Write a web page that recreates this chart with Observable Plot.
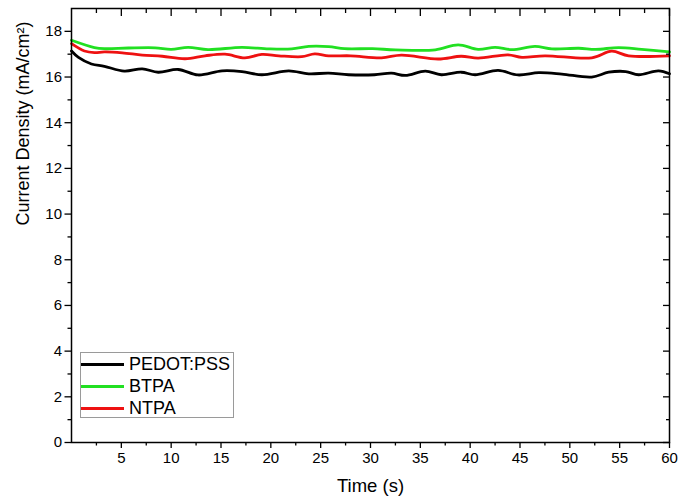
<!DOCTYPE html>
<html>
<head>
<meta charset="utf-8">
<script src="https://cdn.jsdelivr.net/npm/d3@7"></script>
<script src="https://cdn.jsdelivr.net/npm/@observablehq/plot@0.6"></script>
<style>
  html, body { margin: 0; padding: 0; background: #fff; }
  #wrap { position: relative; width: 678px; height: 503px; font-family: "Liberation Sans", Arial, sans-serif; }
  #legend { position: absolute; left: 80px; top: 352px; width: 154px; height: 66px; border: 1px solid #9a9a9a; background: #fff; box-sizing: border-box; }
  .row { position: absolute; left: 0; height: 20px; display: flex; align-items: center; }
  .swatch { width: 43px; height: 0; border-top: 3px solid; margin-right: 5px; }
  .lbl { font-size: 18px; color: #000; line-height: 18px; white-space: nowrap; }
</style>
</head>
<body>
<div id="wrap"></div>
<script>
// ---- data ----
const seriesNames = ["PEDOT:PSS", "BTPA", "NTPA"];
const seriesColors = ["#000000", "#22e022", "#ee1111"];

const pedotTime = [0, 0.7, 2, 3.3, 5.3, 7.1, 8.7, 10.7, 12.7, 15.1, 17.1, 19.1, 21.8, 23.8, 25.8, 27.8, 30.4, 32.1, 33.5, 35.5, 37.1, 39.1, 40.5, 42.8, 44.8, 46.9, 49.2, 52.2, 53.9, 55.6, 56.9, 58.9, 60];
const pedotValue = [17.14, 16.86, 16.57, 16.47, 16.26, 16.36, 16.21, 16.33, 16.09, 16.27, 16.24, 16.10, 16.27, 16.14, 16.17, 16.10, 16.10, 16.17, 16.07, 16.26, 16.10, 16.21, 16.10, 16.29, 16.09, 16.19, 16.13, 16.00, 16.21, 16.24, 16.10, 16.27, 16.14];

const btpaTime = [0, 2.3, 3.3, 5.7, 8.4, 10, 11.7, 13.7, 17.1, 19.8, 22.1, 23.8, 25.8, 27.4, 30.2, 32.5, 36.5, 38.8, 40.8, 42.5, 44.2, 46.5, 48.2, 50.9, 52.6, 54.9, 57.2, 60];
const btpaValue = [17.61, 17.29, 17.24, 17.27, 17.28, 17.21, 17.30, 17.20, 17.30, 17.23, 17.23, 17.34, 17.33, 17.24, 17.24, 17.19, 17.19, 17.41, 17.21, 17.30, 17.20, 17.34, 17.23, 17.26, 17.21, 17.29, 17.21, 17.10];

const ntpaTime = [0, 1.3, 2.3, 3.3, 5.1, 7.1, 9.1, 11.4, 13.4, 15.4, 17.4, 19.1, 20.8, 23.1, 24.4, 25.8, 28, 31.1, 33.1, 36.8, 39.1, 40.8, 43.8, 45.2, 47.5, 52.2, 54.2, 55.9, 60];
const ntpaValue = [17.46, 17.14, 17.07, 17.10, 17.06, 16.96, 16.91, 16.80, 16.93, 17.00, 16.84, 16.99, 16.93, 16.89, 17.01, 16.93, 16.93, 16.84, 16.96, 16.79, 16.91, 16.83, 16.97, 16.86, 16.93, 16.84, 17.13, 16.93, 16.93];

const xTicks = [5, 10, 15, 20, 25, 30, 35, 40, 45, 50, 55, 60];
const yTicks = [0, 2, 4, 6, 8, 10, 12, 14, 16, 18];
const xMinorTicks = [2.5, 7.5, 12.5, 17.5, 22.5, 27.5, 32.5, 37.5, 42.5, 47.5, 52.5, 57.5];
const yMinorTicks = [1, 3, 5, 7, 9, 11, 13, 15, 17];
const xLabel = "Time (s)";
const yLabel = "Current Density (mA/cm²)";

// ---- build table ----
const times = [pedotTime, btpaTime, ntpaTime];
const values = [pedotValue, btpaValue, ntpaValue];
const rows = [];
seriesNames.forEach((name, i) => {
  times[i].forEach((t, j) => rows.push({series: name, t, v: values[i][j]}));
});

const chart = Plot.plot({
  width: 678,
  height: 503,
  marginLeft: 71,
  marginRight: 9,
  marginTop: 8,
  marginBottom: 61,
  style: {fontFamily: "Liberation Sans, Arial, sans-serif", fontSize: "15px", color: "#000", background: "#fff"},
  x: {domain: [0, 60]},
  y: {domain: [0, 19]},
  color: {domain: seriesNames, range: seriesColors},
  marks: [
    Plot.line(rows, {x: "t", y: "v", z: "series", stroke: "series", strokeWidth: 2.8, curve: "catmull-rom"}),
    Plot.frame({stroke: "#000", strokeWidth: 1.5}),
    // bottom axis
    Plot.axisX(xMinorTicks, {anchor: "bottom", tickSize: 3.5, text: null, label: null, strokeWidth: 1.3}),
    Plot.axisX(xTicks, {anchor: "bottom", tickSize: 6, tickPadding: 4, label: null, strokeWidth: 1.3, fontSize: 15}),
    // top axis (inward)
    Plot.axisX(xMinorTicks, {anchor: "top", tickSize: -4, text: null, label: null, strokeWidth: 1.3}),
    Plot.axisX(xTicks, {anchor: "top", tickSize: -7, text: null, label: null, strokeWidth: 1.3}),
    // left axis
    Plot.axisY(yMinorTicks, {anchor: "left", tickSize: 3.5, text: null, label: null, strokeWidth: 1.3}),
    Plot.axisY(yTicks, {anchor: "left", tickSize: 6.5, tickPadding: 3, label: null, strokeWidth: 1.3, fontSize: 15}),
    // right axis (inward)
    Plot.axisY(yMinorTicks, {anchor: "right", tickSize: -4, text: null, label: null, strokeWidth: 1.3}),
    Plot.axisY(yTicks, {anchor: "right", tickSize: -7, text: null, label: null, strokeWidth: 1.3}),
    // axis titles
    Plot.text([xLabel], {frameAnchor: "bottom", dy: 49, fontSize: 18.5, fill: "#000"}),
    Plot.text([yLabel], {frameAnchor: "left", rotate: -90, dx: -48, fontSize: 18, fill: "#000"})
  ]
});

const wrap = document.getElementById("wrap");
wrap.appendChild(chart);

// legend overlay
const legend = document.createElement("div");
legend.id = "legend";
const rowTops = [1, 23, 45];
seriesNames.forEach((name, i) => {
  const r = document.createElement("div");
  r.className = "row";
  r.style.top = rowTops[i] + "px";
  const sw = document.createElement("div");
  sw.className = "swatch";
  sw.style.borderTopColor = seriesColors[i];
  const lb = document.createElement("span");
  lb.className = "lbl";
  lb.textContent = name;
  r.appendChild(sw);
  r.appendChild(lb);
  legend.appendChild(r);
});
wrap.appendChild(legend);
</script>
</body>
</html>
